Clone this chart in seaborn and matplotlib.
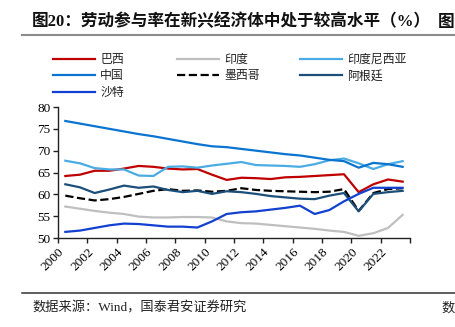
import numpy as np
import pandas as pd
import matplotlib
matplotlib.use("Agg")
import matplotlib.pyplot as plt
from matplotlib.lines import Line2D
import seaborn as sns

years = list(range(2000, 2024))
brazil = [64.2, 64.5, 65.4, 65.4, 65.9, 66.5, 66.3, 65.9, 65.7, 65.8, 64.5, 63.3,
          63.8, 63.7, 63.5, 63.9, 64.0, 64.2, 64.4, 64.6, 60.5, 62.3, 63.4, 62.9]
india = [57.2, 56.7, 56.2, 55.8, 55.5, 54.9, 54.7, 54.7, 54.8, 54.8, 54.7, 53.8,
         53.4, 53.3, 53.0, 52.7, 52.4, 52.1, 51.7, 51.4, 50.5, 51.1, 52.3, 55.3]
indonesia = [67.7, 67.1, 66.0, 65.7, 65.7, 64.3, 64.2, 66.3, 66.4, 66.1, 66.6, 67.0,
             67.4, 66.7, 66.6, 66.5, 66.3, 66.9, 67.8, 68.2, 67.1, 65.8, 66.9, 67.6]
china = [76.8, 76.2, 75.6, 75.0, 74.4, 73.8, 73.3, 72.7, 72.1, 71.5, 71.0, 70.8,
         70.4, 70.0, 69.6, 69.2, 68.9, 68.4, 67.9, 67.6, 66.1, 67.2, 66.9, 66.3]
mexico = [59.7, 59.1, 58.6, 58.9, 59.4, 60.1, 60.8, 61.2, 60.8, 60.9, 60.6, 60.8,
          61.4, 61.0, 60.8, 60.7, 60.6, 60.5, 60.6, 61.2, 56.2, 60.3, 61.2, 61.4]
argentina = [62.3, 61.6, 60.3, 61.1, 62.0, 61.5, 61.8, 61.0, 60.5, 60.8, 60.1, 60.7,
             60.5, 60.1, 59.6, 59.3, 59.0, 58.9, 59.7, 60.3, 56.1, 60.1, 60.5, 60.8]
saudi = [51.4, 51.7, 52.3, 52.9, 53.3, 53.2, 52.9, 52.6, 52.6, 52.4, 53.8, 55.5,
         55.9, 56.1, 56.5, 56.9, 57.4, 55.5, 56.4, 58.4, 60.1, 61.5, 61.5, 61.5]

names = ["巴西", "印度", "印度尼西亚", "中国", "墨西哥", "阿根廷", "沙特"]
series = [brazil, india, indonesia, china, mexico, argentina, saudi]
colors = ["#C00000", "#BFBFBF", "#4BACE3", "#0A74D0", "#000000", "#1B4F7A", "#1240D0"]
styles = ["-", "-", "-", "-", "--", "-", "-"]

xticks = list(range(2000, 2025, 2))
xlabels = [str(y) for y in range(2000, 2023, 2)] + [""]
yticks = [50, 55, 60, 65, 70, 75, 80]

W, H = 456, 327
fig = plt.figure(figsize=(W / 100, H / 100), dpi=100)
fig.patch.set_facecolor("white")
ax = fig.add_axes([58 / W, 1 - 238 / H, (410 - 58) / W, (238 - 107) / H])

cjk = ["Noto Sans CJK SC", "DejaVu Sans"]
serif_cjk = ["Liberation Serif", "Noto Sans CJK SC"]

handles = []
for name, vals, c, ls in zip(names, series, colors, styles):
    df = pd.DataFrame({"x": np.array(years) + 0.5, "y": vals})
    sns.lineplot(data=df, x="x", y="y", ax=ax, color=c, linewidth=1.6,
                 linestyle=ls, legend=False)
    handles.append(Line2D([0], [0], color=c, lw=1.6, linestyle=ls))

ax.set_xlim(2000, 2024)
ax.set_ylim(50, 80)
ax.set_xticks(xticks)
ax.set_xticklabels(xlabels, rotation=45, ha="right", rotation_mode="anchor",
                   family="Liberation Serif", fontsize=9.5)
ax.set_yticks(yticks)
ax.set_yticklabels([str(v) for v in yticks], family="Liberation Serif", fontsize=9.5)
ax.set_xlabel("")
ax.set_ylabel("")
for s in ["top", "right"]:
    ax.spines[s].set_visible(False)
for s in ["left", "bottom"]:
    ax.spines[s].set_color("#222222")
    ax.spines[s].set_linewidth(1.0)
ax.tick_params(axis="both", direction="out", length=3.5, width=1.0, color="#222222",
               pad=2)
ax.set_facecolor("white")

# legend: one entry per slot, in a 3-column grid
col_x = [53, 177, 300]
row_y = [59.5, 76, 92.5]
for i, (h, name) in enumerate(zip(handles, names)):
    r, c = divmod(i, 3)
    lg = fig.legend([h], [name], loc="center left",
                    bbox_to_anchor=(col_x[c] / W, 1 - row_y[r] / H),
                    frameon=False, borderpad=0, borderaxespad=0,
                    handlelength=3.5, handletextpad=0.45,
                    prop={"family": cjk, "size": 8.6})
    for t in lg.get_texts():
        t.set_color("#222222")

# title and rules
fig.text(32 / W, 1 - 21.5 / H, "图20：劳动参与率在新兴经济体中处于较高水平（%）",
         fontsize=12, weight="bold", va="center", ha="left", family=serif_cjk,
         color="#111111")
fig.text(438 / W, 1 - 21.5 / H, "图", fontsize=12, weight="bold", va="center",
         ha="left", family=cjk, color="#111111")
fig.add_artist(Line2D([22 / W, 1], [1 - 35 / H] * 2, color="#8c8c8c", lw=1.5))
fig.add_artist(Line2D([22 / W, 1], [1 - 293 / H] * 2, color="#333333", lw=1.1))
fig.text(32 / W, 1 - 308 / H, "数据来源：Wind，国泰君安证券研究", fontsize=9.5,
         va="center", ha="left", family=serif_cjk, color="#222222")
fig.text(441 / W, 1 - 308 / H, "数", fontsize=9.5, va="center", ha="left",
         family=cjk, color="#222222")

fig.savefig("out.png", dpi=100, facecolor="white")
